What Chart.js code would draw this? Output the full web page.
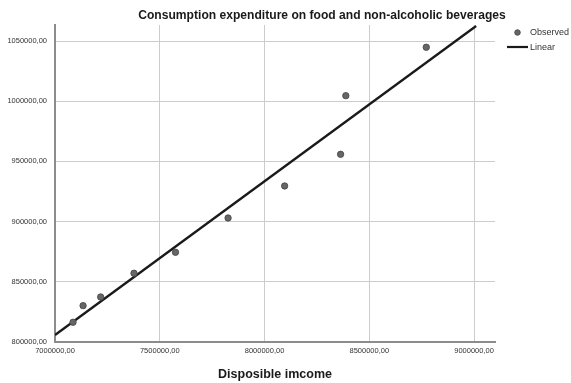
<!DOCTYPE html>
<html>
<head>
<meta charset="utf-8">
<script src="https://cdn.jsdelivr.net/npm/chart.js@4/dist/chart.umd.min.js"></script>
<style>
  html, body { margin: 0; padding: 0; background: #fff; }
  #wrap { width: 571px; height: 383px; position: relative; }
</style>
</head>
<body>
<div id="wrap"><canvas id="chart" width="571" height="383"></canvas></div>
<script>
// Observed disposable income vs. food & non-alcoholic beverage spending
const incomeObserved = [7086000, 7134000, 7218000, 7377000, 7575000, 7826000, 8096000, 8363000, 8388000, 8772000];
const expenditureObserved = [816400, 830200, 837400, 857100, 874500, 903000, 929600, 955900, 1004600, 1044800];

// End points of the fitted linear trend
const fitIncome = [7000000, 9010000];
const fitExpenditure = [805800, 1062500];

// Axis tick values
const xTicks = [7000000, 7500000, 8000000, 8500000, 9000000];
const yTicks = [800000, 850000, 900000, 950000, 1000000, 1050000];

const chartTitle = 'Consumption expenditure on food and non-alcoholic beverages';
const xTitle = 'Disposible imcome';
const legendLabels = ['Observed', 'Linear'];

const fmt = v => Number(v).toFixed(2).replace('.', ',');

const observedPoints = incomeObserved.map((x, i) => ({ x, y: expenditureObserved[i] }));
const fitPoints = fitIncome.map((x, i) => ({ x, y: fitExpenditure[i] }));

const FONT = '"Liberation Sans", Arial, sans-serif';

// Heading and the key at the right, drawn on the canvas
const decorations = {
  id: 'decorations',
  afterDraw(chart) {
    const ctx = chart.ctx;
    ctx.save();
    ctx.fillStyle = '#1a1a1a';
    ctx.font = 'bold 12.1px ' + FONT;
    ctx.textAlign = 'center';
    ctx.textBaseline = 'middle';
    ctx.fillText(chartTitle, 322, 16);

    // key
    ctx.font = '9px ' + FONT;
    ctx.textAlign = 'left';
    ctx.beginPath();
    ctx.arc(517.5, 32.5, 2.8, 0, Math.PI * 2);
    ctx.fillStyle = '#666';
    ctx.fill();
    ctx.strokeStyle = '#444';
    ctx.lineWidth = 0.8;
    ctx.stroke();
    ctx.fillStyle = '#333';
    ctx.fillText(legendLabels[0], 530, 33);

    ctx.beginPath();
    ctx.moveTo(507, 47);
    ctx.lineTo(528, 47);
    ctx.strokeStyle = '#1a1a1a';
    ctx.lineWidth = 2.2;
    ctx.stroke();
    ctx.fillText(legendLabels[1], 530, 47.5);
    ctx.restore();
  }
};

new Chart(document.getElementById('chart'), {
  type: 'scatter',
  data: {
    datasets: [
      {
        label: legendLabels[0],
        data: observedPoints,
        pointRadius: 3.2,
        pointHoverRadius: 3.2,
        pointBackgroundColor: '#666666',
        pointBorderColor: '#444444',
        pointBorderWidth: 0.8,
        order: 1
      },
      {
        label: legendLabels[1],
        type: 'line',
        data: fitPoints,
        showLine: true,
        borderColor: '#1a1a1a',
        borderWidth: 2.3,
        pointRadius: 0,
        fill: false,
        order: 2
      }
    ]
  },
  options: {
    responsive: false,
    animation: false,
    events: [],
    layout: { padding: { top: 25, right: 76, left: 0, bottom: 0 } },
    plugins: {
      legend: { display: false },
      title: { display: false },
      tooltip: { enabled: false }
    },
    scales: {
      x: {
        type: 'linear',
        min: 7000000,
        max: 9100000,
        afterBuildTicks: s => { s.ticks = xTicks.map(v => ({ value: v })); },
        afterFit: s => { s.height = 41; },
        grid: { color: '#cccccc', lineWidth: 1, drawTicks: false },
        border: { color: '#8c8c8c', width: 2 },
        ticks: {
          padding: 4,
          maxRotation: 0,
          autoSkip: false,
          color: '#333',
          font: { family: FONT, size: 7.5 },
          callback: v => fmt(v)
        },
        title: {
          display: true,
          text: xTitle,
          color: '#1a1a1a',
          font: { family: FONT, size: 12.5, weight: 'bold' },
          padding: { top: 0, bottom: 1 }
        }
      },
      y: {
        type: 'linear',
        min: 800000,
        max: 1063300,
        afterBuildTicks: s => { s.ticks = yTicks.map(v => ({ value: v })); },
        afterFit: s => { s.width = 55; },
        grid: { color: '#cccccc', lineWidth: 1, drawTicks: false },
        border: { color: '#8c8c8c', width: 2 },
        ticks: {
          padding: 8,
          color: '#333',
          font: { family: FONT, size: 7.5 },
          callback: v => fmt(v)
        }
      }
    }
  },
  plugins: [decorations]
});
</script>
</body>
</html>
